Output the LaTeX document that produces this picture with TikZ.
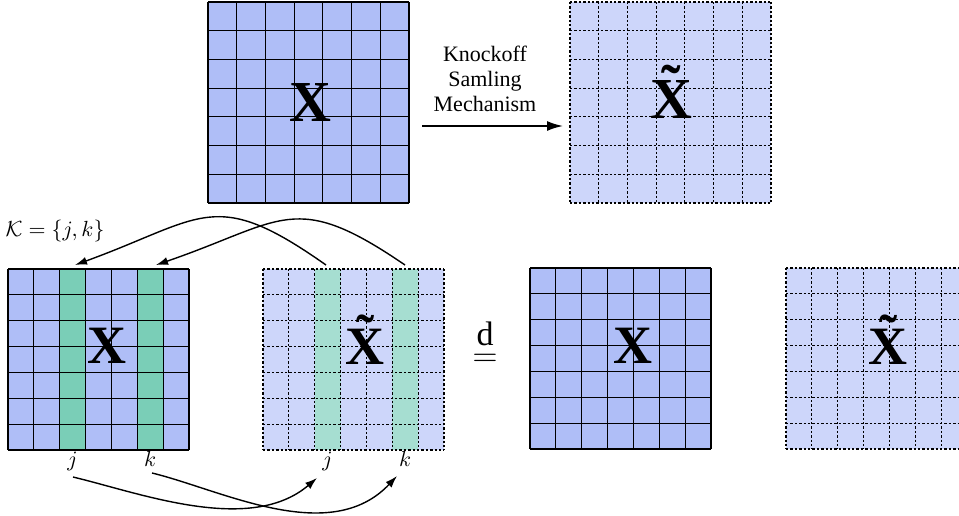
\documentclass[tikz,border=0pt]{standalone}
\usepackage{fontspec}
\setmainfont{Liberation Serif}
\usetikzlibrary{arrows.meta}
\definecolor{xblue}{RGB}{175,190,247}
\definecolor{kblue}{RGB}{205,214,250}
\definecolor{xgreen}{RGB}{122,206,183}
\definecolor{kgreen}{RGB}{166,222,209}
% grid: #1 x0, #2 y0, #3 cell size, #4 line style
\newcommand\mygrid[4]{%
  \foreach \gi in {0,...,7}{%
    \draw[#4] ({#1+\gi*#3},#2) -- ({#1+\gi*#3},{#2+7*#3});
    \draw[#4] (#1,{#2+\gi*#3}) -- ({#1+7*#3},{#2+\gi*#3});
  }}
\newcommand\tilX{\ooalign{X\cr\hidewidth\raisebox{0.22em}{\char"02DC}\hidewidth\cr}}
\tikzset{
  xline/.style={line width=0.6pt, black},
  kline/.style={line width=0.6pt, black, dash pattern=on 1.2pt off 1pt},
  bigX/.style={font=\bfseries\fontsize{29}{30}\selectfont, anchor=base, inner sep=0pt},
  midX/.style={font=\bfseries\fontsize{27}{28}\selectfont, anchor=base, inner sep=0pt},
  idx/.style={font=\fontsize{10.5}{12}\selectfont, anchor=base, inner sep=0pt},
  flow/.style={line width=0.9pt, -{Latex[length=8pt,width=5pt]}},
  swap/.style={line width=0.7pt, -{Latex[length=6pt,width=4pt]}},
}
\begin{document}
\begin{tikzpicture}[x=0.5pt, y=-0.5pt]
\useasboundingbox (0,0) rectangle (959,515);
% ---- top grids
\fill[xblue] (208,2) rectangle ++(201,201);
\mygrid{208}{2}{28.714}{xline}
\fill[kblue] (570,2) rectangle ++(201,201);
\mygrid{570}{2}{28.714}{kline}
% ---- bottom grid 1 (X with swapped columns)
\fill[xblue] (8,269) rectangle ++(181,181);
\fill[xgreen] ({8+2*25.857},269) rectangle ++(25.857,181);
\fill[xgreen] ({8+5*25.857},269) rectangle ++(25.857,181);
\mygrid{8}{269}{25.857}{xline}
% ---- bottom grid 2 (knockoff with swapped columns)
\fill[kblue] (263,269) rectangle ++(181,181);
\fill[kgreen] ({263+2*25.857},269) rectangle ++(25.857,181);
\fill[kgreen] ({263+5*25.857},269) rectangle ++(25.857,181);
\mygrid{263}{269}{25.857}{kline}
% ---- bottom grid 3 and 4
\fill[xblue] (530,268) rectangle ++(181,181);
\mygrid{530}{268}{25.857}{xline}
\fill[kblue] (786,268) rectangle ++(181,181);
\mygrid{786}{268}{25.857}{kline}
% ---- matrix labels
\node[bigX] (xtop) at (310,121) {X};
\node[bigX] (ktop) at (671.5,118) {\tilX};
\node[midX] (xsw) at (106.5,363) {X};
\node[midX] (ksw) at (365,364) {\tilX};
\node[midX] (xeq) at (633,363) {X};
\node[midX] (keq) at (888,364) {\tilX};
% ---- mechanism text and arrow
\node[align=center, font=\fontsize{11}{12.6}\selectfont] (mech) at (485,79) {Knockoff\\Samling\\Mechanism};
\coordinate (mA) at (422,126);
\coordinate (mB) at (563,126);
\draw[flow] (mA) -- (mB);
% ---- equal in distribution
\node[font=\fontsize{17}{18}\selectfont, anchor=base, inner sep=0pt] (dlab) at (485,345) {d};
\node[font=\fontsize{17}{18}\selectfont, anchor=base, inner sep=0pt] (eqs) at (485,366) {$=$};
% ---- set label
\node[font=\fontsize{10.5}{12}\selectfont] (kset) at (55,231) {$\mathcal{K}=\{j,k\}$};
% ---- column labels
\node[idx] (j1) at (72.6,466) {$j$};
\node[idx] (k1) at (150.2,466) {$k$};
\node[idx] (j2) at (327.6,466) {$j$};
\node[idx] (k2) at (405.2,466) {$k$};
% ---- connector end points
\coordinate (tj2) at (326,265);
\coordinate (tk2) at (405,265);
\coordinate (tj1) at (75,265);
\coordinate (tk1) at (156,265);
\coordinate (bj1) at (73,477);
\coordinate (bk1) at (152,473);
\coordinate (bj2) at (317,478);
\coordinate (bk2) at (397,476);
% ---- swap arrows
\draw[swap] (tj2) .. controls (214,186) and (204,218) .. (tj1);
\draw[swap] (tk2) .. controls (294,189) and (284,221) .. (tk1);
\draw[swap] (bj1) .. controls (140,493) and (250,535) .. (bj2);
\draw[swap] (bk1) .. controls (222,490) and (330,547) .. (bk2);
\end{tikzpicture}
\end{document}
